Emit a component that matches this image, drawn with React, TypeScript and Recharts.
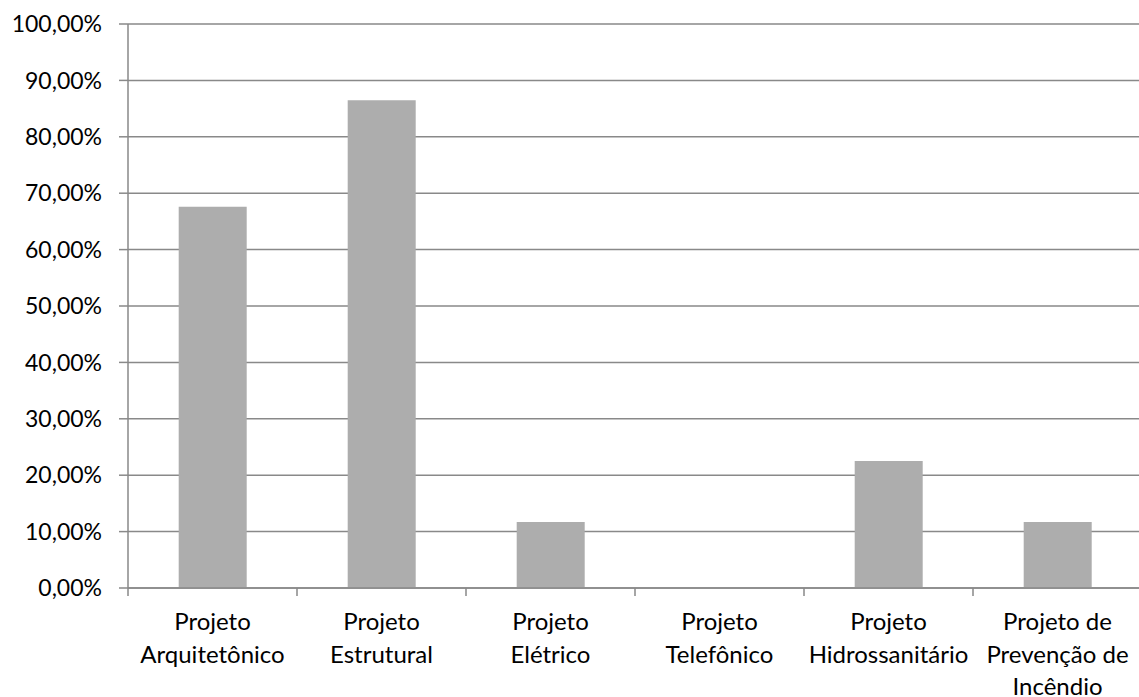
import { BarChart, Bar, XAxis, YAxis, CartesianGrid } from 'recharts';

const categories = [
  'Projeto Arquitetônico',
  'Projeto Estrutural',
  'Projeto Elétrico',
  'Projeto Telefônico',
  'Projeto Hidrossanitário',
  'Projeto de Prevenção de Incêndio',
];

// line breaks as they appear under the axis
const labelLines = [
  ['Projeto', 'Arquitetônico'],
  ['Projeto', 'Estrutural'],
  ['Projeto', 'Elétrico'],
  ['Projeto', 'Telefônico'],
  ['Projeto', 'Hidrossanitário'],
  ['Projeto de', 'Prevenção de', 'Incêndio'],
];

const percentages = [67.6, 86.5, 11.7, 0, 22.5, 11.7];

const yTicks = [0, 10, 20, 30, 40, 50, 60, 70, 80, 90, 100];

const data = categories.map((name, i) => ({
  name,
  lines: labelLines[i],
  value: percentages[i],
}));

const FONT = 'Lato, "Liberation Sans", sans-serif';
const GRAY = '#898989';

const formatPct = (v: number) => `${v.toFixed(2).replace('.', ',')}%`;

function CategoryTick(props: any) {
  const { x, y, payload, index } = props;
  const half = payload?.offset ?? 84.5;
  const lines: string[] = labelLines[index] ?? [payload.value];
  const axisY = y - 8;
  return (
    <g>
      <line x1={x - half} y1={axisY} x2={x - half} y2={axisY + 8} stroke={GRAY} strokeWidth={1.5} />
      {index === categories.length - 1 && (
        <line x1={x + half} y1={axisY} x2={x + half} y2={axisY + 8} stroke={GRAY} strokeWidth={1.5} />
      )}
      <text x={x} y={axisY + 42} textAnchor="middle" fill="#000" fontSize={24} fontFamily={FONT}>
        {lines.map((l, i) => (
          <tspan key={i} x={x} dy={i === 0 ? 0 : 32.5}>
            {l}
          </tspan>
        ))}
      </text>
    </g>
  );
}

export default function App() {
  return (
    <div style={{ position: 'absolute', left: 0, top: 0, width: 1139, height: 697, overflow: 'hidden', background: '#fff' }}>
      <BarChart
        width={1150}
        height={697}
        data={data}
        margin={{ top: 24, right: 8, left: 0, bottom: 0 }}
        barCategoryGap="30%"
      >
        <CartesianGrid vertical={false} stroke={GRAY} strokeWidth={1.5} />
        <XAxis
          dataKey="name"
          interval={0}
          height={109}
          tickSize={8}
          tickMargin={0}
          tickLine={false}
          axisLine={{ stroke: GRAY, strokeWidth: 1.5 }}
          tick={<CategoryTick />}
        />
        <YAxis
          domain={[0, 100]}
          ticks={yTicks}
          width={128}
          tickSize={9}
          tickMargin={17}
          tickFormatter={formatPct}
          tickLine={{ stroke: GRAY, strokeWidth: 1.5 }}
          axisLine={{ stroke: GRAY, strokeWidth: 1.5 }}
          tick={{ fill: '#000', fontSize: 23, fontFamily: FONT }}
        />
        <Bar dataKey="value" fill="#adadad" isAnimationActive={false} />
      </BarChart>
    </div>
  );
}
